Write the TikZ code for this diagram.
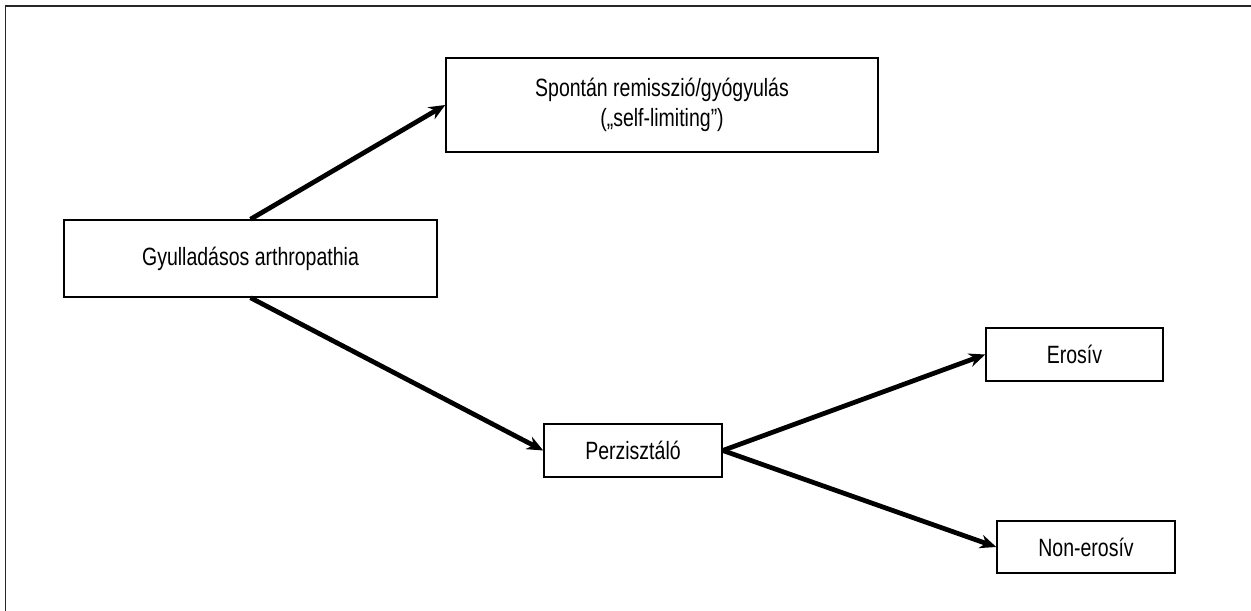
\documentclass[tikz,border=0pt]{standalone}
\usepackage{fontspec}
\setmainfont{Liberation Sans}[FakeStretch=0.78]
\usetikzlibrary{arrows.meta}
\tikzset{box/.style={draw=black, line width=0.6pt, fill=white, align=center, inner sep=0pt},
arr/.style={line width=1.9pt, -{Stealth[length=6.5pt, width=5.5pt]}}}
\begin{document}
\begin{tikzpicture}[x=0.4pt, y=-0.4pt, font=\fontsize{10}{12}\selectfont]
\useasboundingbox (0,0) rectangle (1251,611);
\draw[line width=0.5pt, black!85] (5.5,611)--(5.5,6)--(1251,6);
\node[box, minimum width=172.8pt, minimum height=37.6pt] (spont) at (662,105) {Spontán remisszió/gyógyulás\\(„self-limiting”)};
\node[box, minimum width=149.2pt, minimum height=30.8pt] (gyull) at (250.5,258.5) {Gyulladásos arthropathia};
\node[box, minimum width=71.2pt, minimum height=21.2pt] (perz) at (633,450.5) {Perzisztáló};
\node[box, minimum width=70.8pt, minimum height=21.2pt] (eros) at (1074.5,354.5) {Erosív};
\node[box, minimum width=71.2pt, minimum height=20.8pt] (noner) at (1086,547) {Non-erosív};
\draw[arr] (gyull.north)--(spont.west);
\draw[arr] (gyull.south)--(perz.west);
\draw[arr] (perz.east)--(eros.west);
\draw[arr] (perz.east)--(noner.west);
\end{tikzpicture}
\end{document}
